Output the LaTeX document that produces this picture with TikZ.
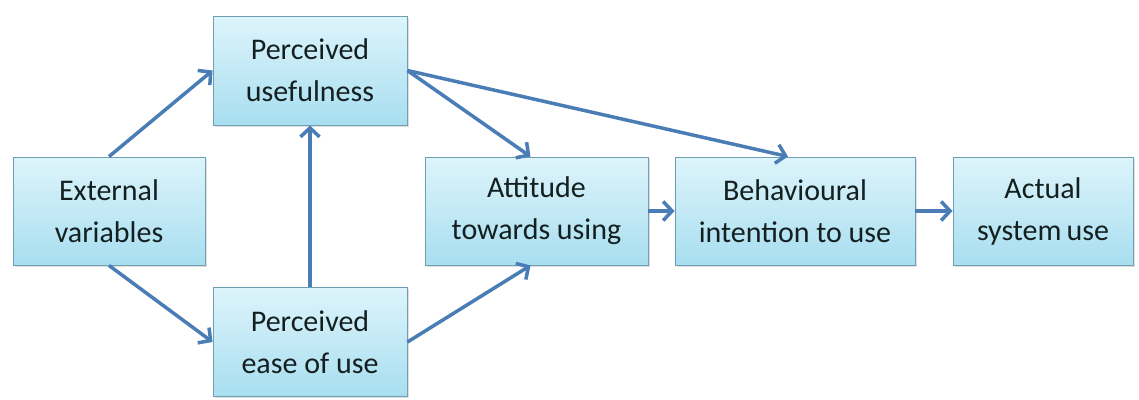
\documentclass[tikz,border=0pt]{standalone}
\usepackage{fontspec}
\setmainfont{Carlito}
\usetikzlibrary{arrows.meta,shadows,calc}
\definecolor{boxtop}{HTML}{DDF4FB}
\definecolor{boxbot}{HTML}{A8DEF0}
\definecolor{boxline}{HTML}{6E9FB3}
\definecolor{arrowblue}{HTML}{4A7DB5}
\definecolor{txt}{HTML}{14201F}
\tikzset{
  box/.style={rectangle, draw=boxline, line width=0.9pt, top color=boxtop, bottom color=boxbot,
    align=center, text=txt, font=\fontsize{30}{42}\selectfont, inner sep=2pt,
    drop shadow={shadow xshift=1.5pt, shadow yshift=-1.5pt, opacity=0.25}},
  link/.style={draw=arrowblue, line width=3.5pt, -{Straight Barb[length=9pt,width=19pt,line width=3.5pt]}}
}
\begin{document}
\begin{tikzpicture}[x=1pt,y=-1pt]
\useasboundingbox (0,0) rectangle (1139,399);
\node[box, minimum width=192pt, minimum height=108pt] (ext) at (109,211) {External\\variables};
\node[box, minimum width=194pt, minimum height=109pt] (pu) at (310,70.5) {Perceived\\usefulness};
\node[box, minimum width=194pt, minimum height=109pt] (peou) at (310,342) {Perceived\\ease of use};
\node[box, minimum width=223pt, minimum height=108pt] (att) at (536.5,211) {Attitude\\towards using};
\node[box, minimum width=240pt, minimum height=108pt] (bi) at (795,211) {Behavioural\\intention to use};
\node[box, minimum width=180pt, minimum height=108pt] (use) at (1043,211) {Actual\\system\,use};
\draw[link] (ext.north) -- (pu.west);
\draw[link] (ext.south) -- (peou.west);
\draw[link] (peou.north) -- (pu.south);
\draw[link] (pu.east) -- ($(att.north)+(-6,0)$);
\draw[link] (pu.east) -- ($(bi.north)+(-7,0)$);
\draw[link] (peou.east) -- ($(att.south)+(-6,0)$);
\draw[link] (att.east) -- (bi.west);
\draw[link] (bi.east) -- (use.west);
\end{tikzpicture}
\end{document}
